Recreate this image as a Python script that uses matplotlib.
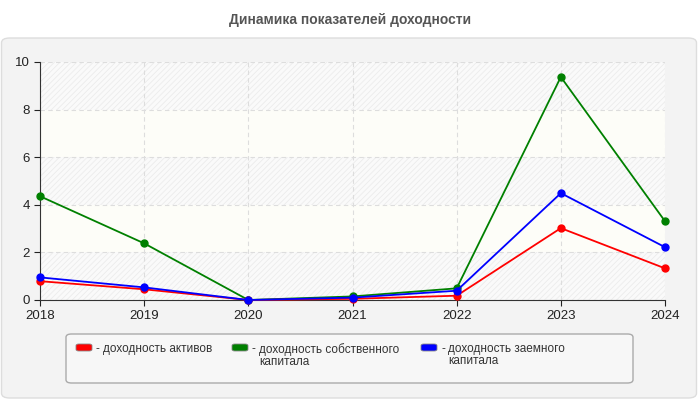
import matplotlib
matplotlib.use('Agg')
import matplotlib.pyplot as plt
from matplotlib.patches import FancyBboxPatch

plt.rcParams['font.family'] = ['Liberation Sans', 'DejaVu Sans']
plt.rcParams['hatch.linewidth'] = 0.6

# данные
years = [2018, 2019, 2020, 2021, 2022, 2023, 2024]
roa = [0.79, 0.45, 0.0, 0.05, 0.18, 3.02, 1.33]
roe = [4.36, 2.38, 0.0, 0.15, 0.49, 9.37, 3.31]
rod = [0.95, 0.53, 0.0, 0.10, 0.39, 4.49, 2.22]
labels = ['доходность активов', 'доходность собственного\nкапитала', 'доходность заемного\nкапитала']
colors = ['#ff0000', '#008000', '#0000ff']
title = 'Динамика показателей доходности'

fig = plt.figure(figsize=(7, 4), dpi=100)
fig.patch.set_facecolor('white')

# серая панель
panel = FancyBboxPatch((1.5 / 700, 2 / 400), 695 / 700, 360 / 400,
                       boxstyle='round,pad=0,rounding_size=0.012',
                       transform=fig.transFigure, facecolor='#f3f3f3',
                       edgecolor='#dddddd', linewidth=1, zorder=-10)
fig.patches.append(panel)

fig.text(0.5, 1 - 20 / 400, title, ha='center', va='center',
         fontsize=10, fontweight='bold', color='#555555')

ax = fig.add_axes([40 / 700, 1 - 300 / 400, 625 / 700, 238 / 400])
ax.set_facecolor('#fdfdf8')

# полосы фона
for lo in range(0, 10, 2):
    if lo % 4 == 0:
        ax.axhspan(lo, lo + 2, facecolor='#fafafa', hatch='//////',
                   edgecolor='#ececec', linewidth=0, zorder=0)
    else:
        ax.axhspan(lo, lo + 2, facecolor='#fdfdf8', linewidth=0, zorder=0)

series = [roa, roe, rod]
order = [1, 0, 2]
for i in order:
    ax.plot(years, series[i], color=colors[i], linewidth=1.3,
            marker='o', markersize=5, zorder=3, clip_on=False)

ax.set_xlim(2018, 2024)
ax.set_ylim(0, 10)
ax.set_xticks(years)
ax.set_yticks([0, 2, 4, 6, 8, 10])
ax.grid(True, color='#dddddd', linestyle=(0, (4, 3)), linewidth=0.8)
ax.set_axisbelow(True)
for s in ['top', 'right']:
    ax.spines[s].set_visible(False)
for s in ['left', 'bottom']:
    ax.spines[s].set_color('#333333')
ax.tick_params(labelsize=9.5, colors='#222222', length=4, width=0.8)

# легенда
leg = FancyBboxPatch((66 / 700, 1 - 383 / 400), 567 / 700, 49 / 400,
                     boxstyle='round,pad=0,rounding_size=0.008',
                     transform=fig.transFigure, facecolor='#f7f7f7',
                     edgecolor='#aaaaaa', linewidth=1)
fig.patches.append(leg)
xs = [76, 232, 421]
for x, c, lab in zip(xs, colors, labels):
    sw = FancyBboxPatch((x / 700, 1 - 351 / 400), 16 / 700, 7 / 400,
                        boxstyle='round,pad=0,rounding_size=0.004',
                        transform=fig.transFigure, facecolor=c,
                        edgecolor='#888888', linewidth=0.6)
    fig.patches.append(sw)
    fig.text((x + 20) / 700, 1 - 343 / 400, '-', ha='left', va='top',
             fontsize=8.5, color='#333333')
    fig.text((x + 27) / 700, 1 - 343 / 400, lab, ha='left', va='top',
             fontsize=8.5, color='#333333', linespacing=1.05)

fig.savefig('out.png', dpi=100, facecolor=fig.get_facecolor())
